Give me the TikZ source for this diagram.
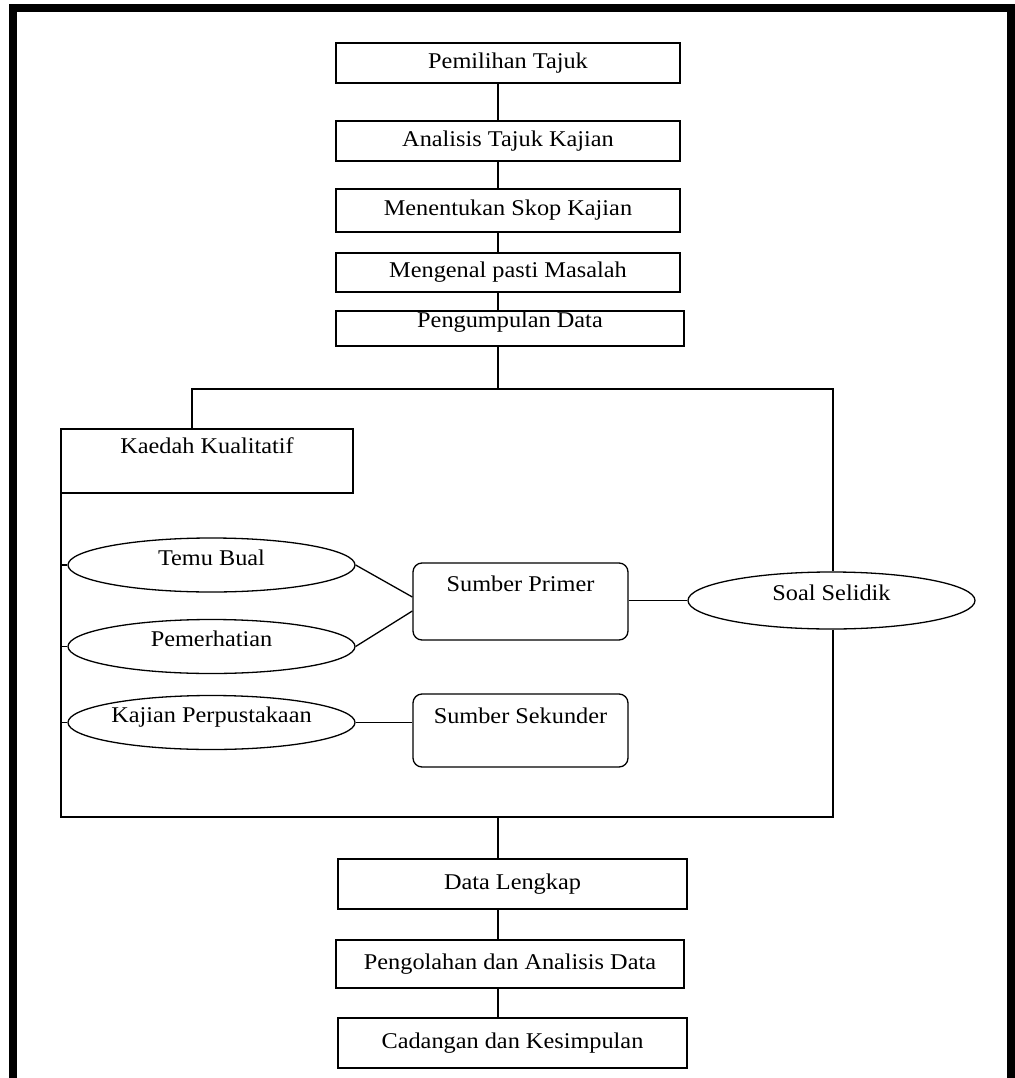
\documentclass[tikz,border=0pt]{standalone}
\usepackage{fontspec}
\setmainfont{Liberation Serif}[FakeStretch=1.08]
\usetikzlibrary{shapes.geometric}

\begin{document}
\begin{tikzpicture}[x=1pt, y=-1pt, line width=1.3pt, every node/.style={font=\fontsize{22.5}{27}\selectfont, inner sep=0pt}, box/.style={draw, rectangle, fill=white}, oval/.style={draw, ellipse, fill=white, minimum width=287pt, minimum height=54pt, text height=16pt, text depth=16pt}, source/.style={draw, rectangle, rounded corners=9pt, fill=white, minimum width=215pt, minimum height=77pt, text height=16pt}]

\useasboundingbox[fill=white] (0,0) rectangle (1014,1078);
\draw[line width=8pt] (13,1078) -- (13,8) -- (1011,8) -- (1011,1078);

% steps before data collection
\node[box, minimum width=344pt, minimum height=40pt] (pemilihan) at (508,63) {Pemilihan Tajuk};
\node[box, minimum width=344pt, minimum height=40pt] (analisis) at (508,141) {Analisis Tajuk Kajian};
\node[box, minimum width=344pt, minimum height=43pt] (skop) at (508,210.5) {Menentukan Skop Kajian};
\node[box, minimum width=344pt, minimum height=39pt] (masalah) at (508,272.5) {Mengenal pasti Masalah};
\node[box, minimum width=348pt, minimum height=35pt, text height=16pt, text depth=19pt] (kumpul) at (510,328.5) {Pengumpulan Data};

% data collection methods
\node[box, minimum width=292pt, minimum height=64pt, text height=16pt, text depth=32pt] (kaedah) at (207,461) {Kaedah Kualitatif};
\node[oval] (temu) at (211.5,565) {Temu Bual};
\node[oval] (perhati) at (211.5,646.5) {Pemerhatian};
\node[oval] (pustaka) at (211.5,722.5) {Kajian Perpustakaan};
\node[source, text depth=37pt] (primer) at (520.5,601.5) {Sumber Primer};
\node[source, minimum height=73pt, text depth=31pt] (sekunder) at (520.5,730.5) {Sumber Sekunder};
\node[oval, minimum height=57pt] (soal) at (831.5,600.5) {Soal Selidik};

% steps after data collection
\node[box, minimum width=349pt, minimum height=50pt] (lengkap) at (512.5,884) {Data Lengkap};
\node[box, minimum width=348pt, minimum height=48pt] (olah) at (510,964) {Pengolahan dan Analisis Data};
\node[box, minimum width=349pt, minimum height=50pt] (cadang) at (512.5,1043) {Cadangan dan Kesimpulan};

\coordinate (spine) at (498,0);
\coordinate (split) at (498,389);
\coordinate (branch) at (192,389);
\coordinate (ne) at (833,389);
\coordinate (se) at (833,817);
\coordinate (sw) at (61,817);
\coordinate (join) at (498,817);

\foreach \a/\b in {pemilihan/analisis, analisis/skop, skop/masalah, masalah/kumpul, lengkap/olah, olah/cadang}
  \draw (\a.south -| spine) -- (\b.north -| spine);
\draw (kumpul.south -| spine) -- (split);
\draw (kaedah.north -| branch) -- (branch) -- (ne) -- (ne |- soal.north);
\draw (se |- soal.south) -- (se) -- (sw) -- (sw |- kaedah.south);
\draw (join) -- (lengkap.north -| spine);

\foreach \n in {temu, perhati, pustaka}
  \draw (\n.west -| sw) -- (\n.west);
\draw (temu.east) -- ([yshift=4.5pt]primer.west);
\draw (perhati.east) -- ([yshift=-9.5pt]primer.west);
\draw (pustaka.east) -- (pustaka.east -| sekunder.west);
\draw (soal.west -| primer.east) -- (soal.west);
\end{tikzpicture}
\end{document}
